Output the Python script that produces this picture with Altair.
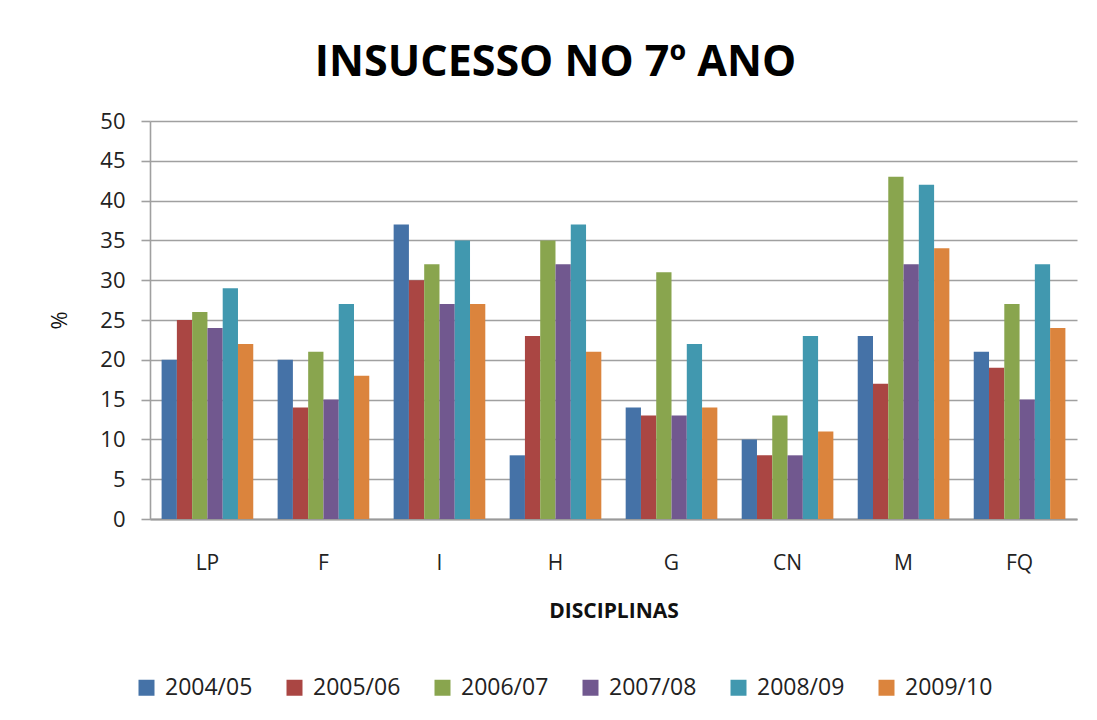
import altair as alt
import pandas as pd

disciplinas = ["LP", "F", "I", "H", "G", "CN", "M", "FQ"]
anos = ["2004/05", "2005/06", "2006/07", "2007/08", "2008/09", "2009/10"]
cores = ["#4572a7", "#aa4643", "#89a54e", "#71588f", "#4198af", "#db843d"]

v_2004_05 = [20, 20, 37, 8, 14, 10, 23, 21]
v_2005_06 = [25, 14, 30, 23, 13, 8, 17, 19]
v_2006_07 = [26, 21, 32, 35, 31, 13, 43, 27]
v_2007_08 = [24, 15, 27, 32, 13, 8, 32, 15]
v_2008_09 = [29, 27, 35, 37, 22, 23, 42, 32]
v_2009_10 = [22, 18, 27, 21, 14, 11, 34, 24]

series = [v_2004_05, v_2005_06, v_2006_07, v_2007_08, v_2008_09, v_2009_10]
rows = []
for ano, vals in zip(anos, series):
    for d, v in zip(disciplinas, vals):
        rows.append({"Disciplina": d, "Ano": ano, "Valor": v})
df = pd.DataFrame(rows)

FONT = "Open Sans"

chart = alt.Chart(df).mark_bar().encode(
    x=alt.X("Disciplina:N", sort=disciplinas,
            scale=alt.Scale(paddingInner=0.21, paddingOuter=0.1),
            axis=alt.Axis(title="DISCIPLINAS", labelAngle=0, ticks=False,
                          labelPadding=33, titlePadding=27,
                          labelFontSize=21, titleFontSize=21,
                          titleFontWeight="bold",
                          domainColor="#9a9a9a", domainWidth=2)),
    xOffset=alt.XOffset("Ano:N", sort=anos),
    y=alt.Y("Valor:Q",
            scale=alt.Scale(domain=[0, 50]),
            axis=alt.Axis(title="%", values=list(range(0, 51, 5)),
                          tickSize=9, labelPadding=16, titlePadding=28,
                          labelFontSize=22, titleFontSize=22,
                          titleFontWeight="normal",
                          gridColor="#a0a0a0", gridWidth=1.6,
                          tickColor="#a0a0a0", tickWidth=1.6,
                          domainColor="#a0a0a0", domainWidth=1.6)),
    color=alt.Color("Ano:N", sort=anos,
                    scale=alt.Scale(domain=anos, range=cores),
                    legend=alt.Legend(title=None, orient="none",
                                      direction="horizontal",
                                      legendX=-15, legendY=555,
                                      symbolType="square", symbolSize=256,
                                      symbolStrokeWidth=0,
                                      labelFontSize=23, labelOffset=7,
                                      labelLimit=300,
                                      columnPadding=30, padding=0)),
).properties(
    width=927,
    height=398,
    title=alt.TitleParams("INSUCESSO NO 7º ANO", fontSize=43,
                          fontWeight="bold", anchor="middle", dx=-58,
                          offset=25, color="#000000"),
    autosize=alt.AutoSizeParams(type="none"),
    padding={"left": 142, "top": 113, "right": 12, "bottom": 190},
).configure(
    font=FONT,
).configure_axis(
    labelColor="#222222", titleColor="#111111", labelFont=FONT, titleFont=FONT,
).configure_legend(
    labelColor="#222222", labelFont=FONT,
).configure_title(
    font=FONT,
).configure_view(
    stroke=None,
)

chart.save("out.html", embed_options={"renderer": "svg", "actions": False})
